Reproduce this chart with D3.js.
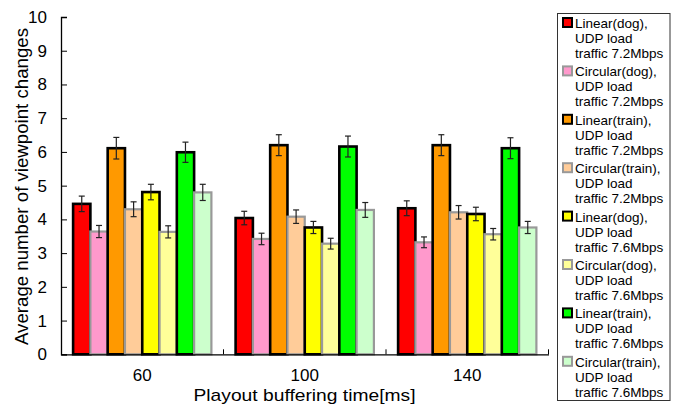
<!DOCTYPE html>
<html><head><meta charset="utf-8">
<script src="https://cdn.jsdelivr.net/npm/d3@7"></script>
<style>body{margin:0;background:#fff}svg{display:block}text{font-family:"Liberation Sans",Arial,sans-serif}</style>
</head><body><svg id="c" width="678" height="409"></svg>
<script>
const categories = ["60", "100", "140"];
const seriesNames = [
  ["Linear(dog),", "UDP load", "traffic 7.2Mbps"],
  ["Circular(dog),", "UDP load", "traffic 7.2Mbps"],
  ["Linear(train),", "UDP load", "traffic 7.2Mbps"],
  ["Circular(train),", "UDP load", "traffic 7.2Mbps"],
  ["Linear(dog),", "UDP load", "traffic 7.6Mbps"],
  ["Circular(dog),", "UDP load", "traffic 7.6Mbps"],
  ["Linear(train),", "UDP load", "traffic 7.6Mbps"],
  ["Circular(train),", "UDP load", "traffic 7.6Mbps"]
];
const seriesColors = ["#ff0000","#ff99cc","#ff9900","#ffcc99","#ffff00","#ffff99","#00ff00","#ccffcc"];
const seriesStroke = ["#000","#999","#000","#999","#000","#999","#000","#999"];
// values[series][category]
const values = [
  [4.46, 4.04, 4.33],
  [3.64, 3.42, 3.32],
  [6.11, 6.20, 6.20],
  [4.30, 4.08, 4.21],
  [4.81, 3.76, 4.16],
  [3.63, 3.28, 3.56],
  [5.99, 6.16, 6.11],
  [4.80, 4.28, 3.76]
];
const errors = [
  [0.23, 0.20, 0.22],
  [0.18, 0.17, 0.16],
  [0.32, 0.31, 0.31],
  [0.22, 0.20, 0.20],
  [0.23, 0.18, 0.20],
  [0.18, 0.16, 0.17],
  [0.30, 0.31, 0.31],
  [0.24, 0.22, 0.18]
];
const yTicks = [0,1,2,3,4,5,6,7,8,9,10];

const svg = d3.select("#c");
const L = 61, R = 548.5, T = 17, B = 354.3;
const x0 = d3.scaleBand().domain(categories).range([L, R]).paddingInner(0).paddingOuter(0);
const x1 = d3.scaleBand().domain(d3.range(8)).range([0, x0.bandwidth()]).paddingInner(0).paddingOuter(0.7);
const y = d3.scaleLinear().domain([0, 10]).range([B, T]);

// bars
categories.forEach((c, ci) => {
  const g = svg.append("g").attr("transform", `translate(${x0(c)},0)`);
  d3.range(8).forEach(si => {
    const v = values[si][ci];
    g.append("rect")
      .attr("x", x1(si)).attr("y", y(v))
      .attr("width", x1.bandwidth()).attr("height", y(0) - y(v))
      .attr("fill", seriesColors[si]).attr("stroke", seriesStroke[si])
      .attr("stroke-width", si % 2 === 0 ? 2.6 : 2.2);
  });
  d3.range(8).forEach(si => {
    const v = values[si][ci], e = errors[si][ci];
    const cx = x1(si) + x1.bandwidth() / 2;
    const eg = g.append("g").attr("stroke", "#222").attr("stroke-width", 1.2);
    eg.append("line").attr("x1", cx).attr("x2", cx).attr("y1", y(v + e)).attr("y2", y(v - e));
    eg.append("line").attr("x1", cx - 3).attr("x2", cx + 3).attr("y1", y(v + e)).attr("y2", y(v + e));
    eg.append("line").attr("x1", cx - 3).attr("x2", cx + 3).attr("y1", y(v - e)).attr("y2", y(v - e));
  });
});

// y axis
const yAxis = svg.append("g").attr("transform", `translate(${L},0)`)
  .call(d3.axisLeft(y).tickValues(yTicks).tickSize(-6).tickPadding(14).tickFormat(d3.format("d")));
yAxis.select(".domain").attr("stroke", "#000").attr("stroke-width", 1.3);
yAxis.selectAll(".tick line").attr("stroke", "#000");
yAxis.selectAll("text").attr("font-size", 17).attr("fill", "#000");

// x axis
const xAxis = svg.append("g").attr("transform", `translate(0,${B})`)
  .call(d3.axisBottom(x0).tickSize(0).tickPadding(15));
xAxis.select(".domain").attr("stroke", "#000").attr("stroke-width", 1.3);
xAxis.selectAll("text").attr("font-size", 17).attr("fill", "#000");
// category separators
const seps = categories.map(c => x0(c) + x0.bandwidth());
svg.append("g").selectAll("line").data(seps).join("line")
  .attr("x1", d => d).attr("x2", d => d).attr("y1", B).attr("y2", B - 5)
  .attr("stroke", "#000").attr("stroke-width", 1);

// axis titles
svg.append("text").attr("x", 304.5).attr("y", 401).attr("text-anchor", "middle")
  .attr("font-size", 17).attr("textLength", 222).attr("lengthAdjust", "spacingAndGlyphs")
  .text("Playout buffering time[ms]");
svg.append("text").attr("transform", `translate(28,${186.5}) rotate(-90)`)
  .attr("text-anchor", "middle").attr("font-size", 18).attr("textLength", 317).attr("lengthAdjust", "spacingAndGlyphs")
  .text("Average number of viewpoint changes");

// legend
const lg = svg.append("g");
lg.append("rect").attr("x", 557.5).attr("y", 13.5).attr("width", 112.5).attr("height", 387)
  .attr("fill", "#fff").attr("stroke", "#333").attr("stroke-width", 1);
seriesNames.forEach((lines, i) => {
  const top = 23 + i * 48.4;
  lg.append("rect").attr("x", 563).attr("y", top - 5).attr("width", 9).attr("height", 9)
    .attr("fill", seriesColors[i]).attr("stroke", seriesStroke[i]).attr("stroke-width", 2);
  lines.forEach((t, li) => {
    lg.append("text").attr("x", 575).attr("y", top + 5 + li * 15)
      .attr("font-size", 13.5).text(t);
  });
});
</script></body></html>
